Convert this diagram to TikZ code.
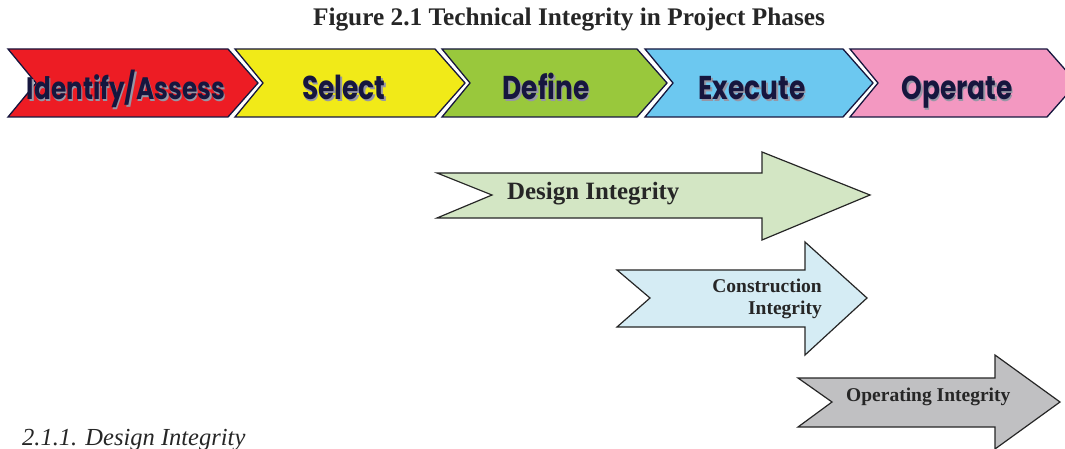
\documentclass[tikz,border=0pt]{standalone}
\usepackage{fontspec}
\setmainfont{Liberation Serif}
\newfontfamily\phasefont[FakeStretch=0.8]{Poppins}

\definecolor{phasered}{RGB}{237,28,36}
\definecolor{phaseyellow}{RGB}{241,234,24}
\definecolor{phasegreen}{RGB}{153,200,60}
\definecolor{phaseblue}{RGB}{108,200,240}
\definecolor{phasepink}{RGB}{243,152,193}
\definecolor{phaseline}{RGB}{22,22,62}
\definecolor{shadowgray}{RGB}{150,150,165}
\definecolor{designfill}{RGB}{211,230,196}
\definecolor{constructfill}{RGB}{213,236,244}
\definecolor{operatefill}{RGB}{192,192,194}
\definecolor{textgray}{RGB}{38,38,38}

\tikzset{
	phase/.style = {draw=phaseline, line width=1.3pt, line join=miter},
	phase label/.style = {font=\phasefont\bfseries\fontsize{33}{33}\selectfont, text=phaseline, inner sep=0pt, anchor=base},
	phase shadow/.style = {phase label, text=shadowgray},
	integrity/.style = {draw=textgray, line width=1.2pt, line join=miter},
	integrity label/.style = {font=\bfseries\fontsize{19.5}{22}\selectfont, text=textgray, inner sep=0pt},
}

\begin{document}
\begin{tikzpicture}[x=1pt, y=-1pt]
	\useasboundingbox (0,0) rectangle (1065,449);
	
	% title
	\node[font=\bfseries\fontsize{25.3}{27}\selectfont, text=textgray, anchor=base, inner sep=0pt] (title) at (569,26) {Figure 2.1 Technical Integrity in Project Phases};
	
	% phases
	\foreach \xa/\xb/\col in {8/228/phasered, 235/435/phaseyellow, 442/637/phasegreen, 645/843/phaseblue, 850/1047/phasepink} {
		\draw[phase, fill=\col] (\xa,49) -- (\xb,49) -- (\xb+30,83) -- (\xb,117) -- (\xa,117) -- (\xa+28,83) -- cycle;
	}
	
	% phase names, shadow first
	\node[phase shadow, font=\phasefont\bfseries\fontsize{31}{31}\selectfont] (identify shadow) at (127.6,101.6) {Identify/Assess};
	\node[phase label, font=\phasefont\bfseries\fontsize{31}{31}\selectfont] (identify) at (126,100) {Identify/Assess};
	\foreach \xc/\name/\txt in {344/select/Select, 546/define/Define, 752/execute/Execute, 957/operate/Operate} {
		\node[phase shadow] (\name shadow) at (\xc+1.6,101.6) {\txt};
		\node[phase label] (\name) at (\xc,100) {\txt};
	}
	
	% integrity arrows
	\draw[integrity, fill=designfill] (437,173) -- (762,173) -- (762,152) -- (870,195) -- (762,240) -- (762,218) -- (437,218) -- (492,195) -- cycle;
	\node[integrity label, font=\bfseries\fontsize{24.9}{25}\selectfont, anchor=base west] (design) at (507,200) {Design Integrity};
	
	\draw[integrity, fill=constructfill] (617,270) -- (805,270) -- (805,242) -- (867,298) -- (805,355) -- (805,327) -- (617,327) -- (650,298) -- cycle;
	\node[integrity label, align=right, anchor=east] (construction) at (822,299) {Construction\\Integrity};
	
	\draw[integrity, fill=operatefill] (798,378) -- (995,378) -- (995,355) -- (1060,402) -- (995,449) -- (995,427) -- (798,427) -- (832,402) -- cycle;
	\node[integrity label, anchor=base west] (operating) at (846,401) {Operating Integrity};
	
	% next section
	\node[font=\itshape\fontsize{24.5}{25}\selectfont, text=textgray, anchor=base west, inner sep=0pt] (section) at (22,445) {2.1.1. Design Integrity};
\end{tikzpicture}
\end{document}
